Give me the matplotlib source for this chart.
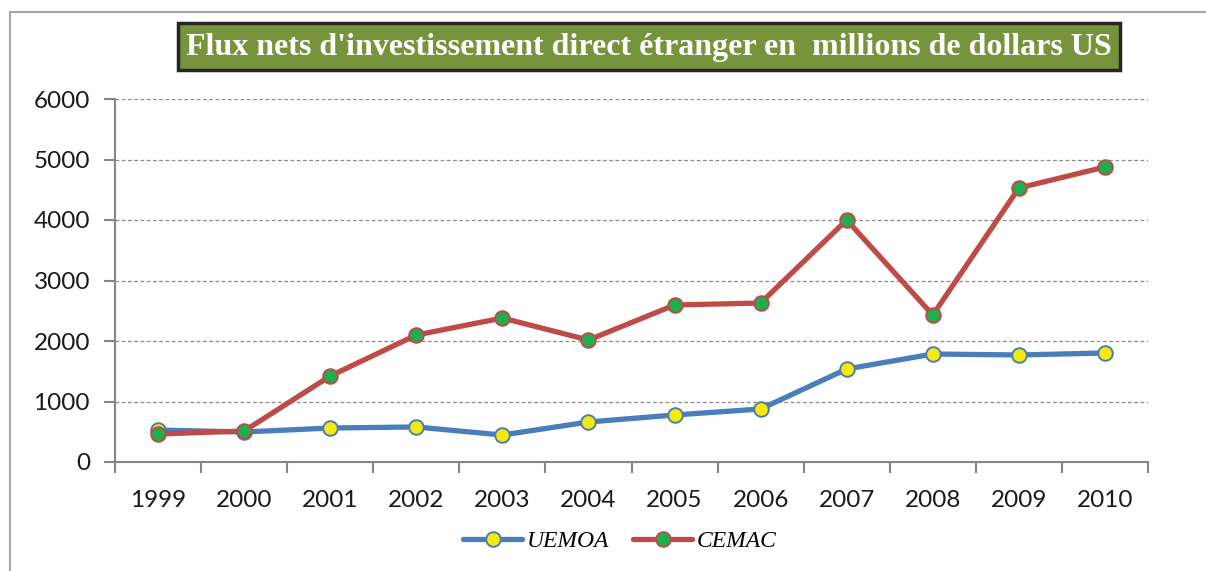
import numpy as np
import matplotlib.pyplot as plt
from matplotlib.lines import Line2D
from matplotlib.patches import Rectangle

annees = ["1999", "2000", "2001", "2002", "2003", "2004", "2005", "2006", "2007", "2008", "2009", "2010"]
uemoa = [529, 496, 562, 579, 446, 661, 777, 876, 1537, 1785, 1769, 1802]
cemac = [463, 512, 1421, 2099, 2380, 2016, 2595, 2628, 4000, 2430, 4529, 4876]

titre = "Flux nets d'investissement direct étranger en  millions de dollars US"

W, H = 1206, 571
fig = plt.figure(figsize=(W / 100, H / 100), dpi=100)
ax = fig.add_axes([115/W, 1 - 462/H, (1148 - 115)/W, (462 - 99)/H])

# cadre exterieur (haut + gauche seulement)
fig.add_artist(Line2D([10/W, 1], [1 - 12/H, 1 - 12/H], transform=fig.transFigure, color="#a6a6a6", lw=1.5))
fig.add_artist(Line2D([10/W, 10/W], [0, 1 - 12/H], transform=fig.transFigure, color="#a6a6a6", lw=1.5))

x = np.arange(len(annees))
ax.plot(x, uemoa, color="#4a7ebb", lw=3.8, marker="o", ms=10.5, mfc="#f5ea0a",
        mec="#4a7ebb", mew=1.4, label="UEMOA", solid_capstyle="round", zorder=3)
ax.plot(x, cemac, color="#be4b48", lw=3.8, marker="o", ms=10.5, mfc="#1fae4f",
        mec="#be4b48", mew=1.4, label="CEMAC", solid_capstyle="round", zorder=4)

ax.set_xlim(-0.5, len(annees) - 0.5)
ax.set_ylim(0, 6000)
ax.set_yticks(range(0, 7000, 1000))
ax.set_xticks(np.arange(-0.5, len(annees), 1))
ax.set_xticklabels([])
ax.set_xticks(x, minor=True)
ax.set_xticklabels(annees, minor=True, fontsize=17.5, fontfamily="Lato", color="#1a1a1a")
ax.tick_params(axis="x", which="minor", length=0, pad=20)
ax.tick_params(axis="x", which="major", length=8, width=1.5, color="#868686", direction="out")
ax.tick_params(axis="y", length=8, width=1.5, color="#868686", pad=10, labelsize=17.5)
for lab in ax.get_yticklabels():
    lab.set_fontfamily("Lato")
    lab.set_color("#1a1a1a")

for y in range(1000, 7000, 1000):
    ax.axhline(y, color="#8c8c8c", lw=0.9, ls=(0, (3, 2)), zorder=1)

for s in ["top", "right"]:
    ax.spines[s].set_visible(False)
for s in ["left", "bottom"]:
    ax.spines[s].set_color("#868686")
    ax.spines[s].set_linewidth(1.5)

# bandeau du titre
fig.add_artist(Rectangle((178/W, 1 - 70/H), (1120 - 178)/W, 47/H, transform=fig.transFigure,
                         fc="#77933c", ec="#262626", lw=2.5))
fig.text(649/W, 1 - 47/H, titre, ha="center", va="center", fontsize=23,
         fontfamily="Liberation Serif", fontweight="bold", color="white")

fig.legend(loc="center", bbox_to_anchor=(620/W, 1 - 541/H), ncol=2, frameon=False,
           prop={"family": "Liberation Serif", "style": "italic", "size": 17},
           handlelength=2.5, columnspacing=1.0, handletextpad=0.2)

fig.savefig("out.png", dpi=100)
